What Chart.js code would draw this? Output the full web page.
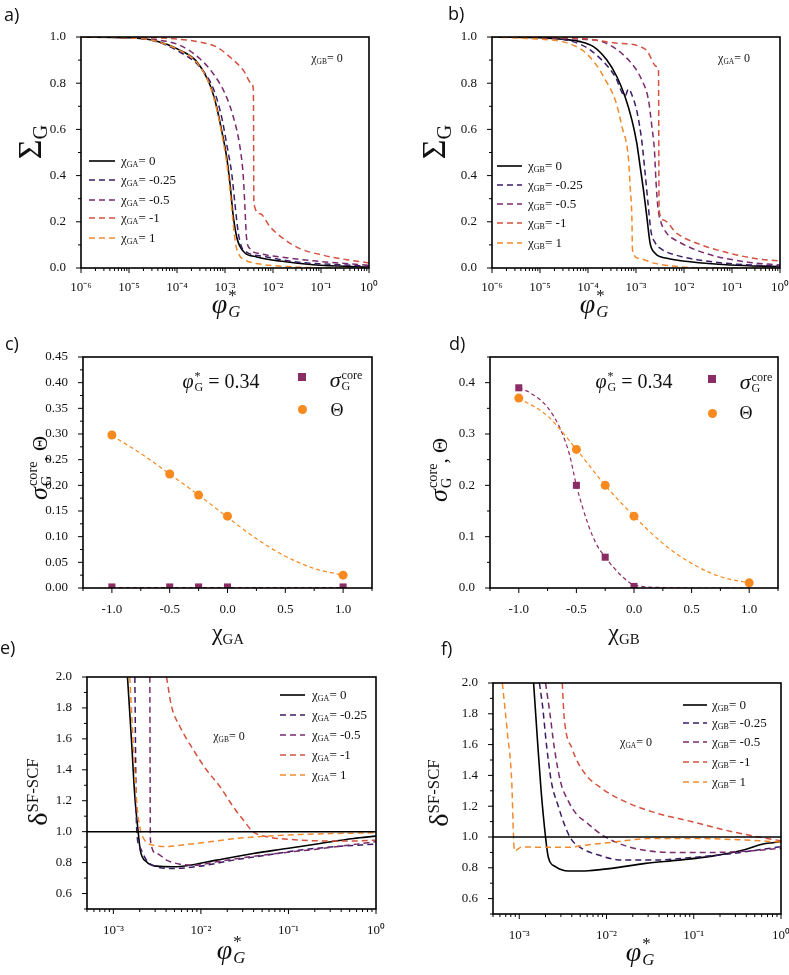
<!DOCTYPE html>
<html><head><meta charset="utf-8">
<script src="https://cdn.jsdelivr.net/npm/chart.js"></script>
<style>
html,body{margin:0;padding:0;background:#fff}
#wrap{position:relative;width:789px;height:975px;overflow:hidden;background:#fff}
canvas{position:absolute;left:0;top:0}
.pl{position:absolute;font-family:"Open Sans",sans-serif;font-size:18px;color:#111;line-height:1}
.t{position:absolute;font-family:"Liberation Serif",serif;color:#111;white-space:nowrap;line-height:1;transform:translate(-50%,-50%)}
.rot{transform:translate(-50%,-50%) rotate(-90deg)}
sub{font-size:0.62em;vertical-align:-0.3em;line-height:0}
.ss{display:inline-flex;flex-direction:column;font-size:0.6em;line-height:0.95;vertical-align:0.7em;text-align:left;margin-left:1px}
.lg{position:absolute;font-family:"Liberation Serif",serif;font-size:13px;color:#111;white-space:nowrap;line-height:1}
.mk{position:absolute}
</style></head><body><div id="wrap">
<canvas id="ca" width="789" height="975"></canvas>
<canvas id="cb" width="789" height="975"></canvas>
<canvas id="cc" width="789" height="975"></canvas>
<canvas id="cd" width="789" height="975"></canvas>
<canvas id="ce" width="789" height="975"></canvas>
<canvas id="cf" width="789" height="975"></canvas>

<div class="pl" style="left:4px;top:5px">a)</div>
<div class="pl" style="left:448px;top:4px">b)</div>
<div class="pl" style="left:5px;top:334px">c)</div>
<div class="pl" style="left:449px;top:334px">d)</div>
<div class="pl" style="left:0px;top:638px">e)</div>
<div class="pl" style="left:441px;top:639px">f)</div>

<div class="t rot" style="left:30px;top:142px;font-size:34px">Σ<sub style="font-size:0.6em">G</sub></div>
<div class="t rot" style="left:434px;top:142px;font-size:34px">Σ<sub style="font-size:0.6em">G</sub></div>
<div class="t" style="left:226px;top:304px;font-size:28px"><i>φ</i><span class="ss"><span>*</span><span><i>G</i></span></span></div>
<div class="t" style="left:594px;top:304px;font-size:28px"><i>φ</i><span class="ss"><span>*</span><span><i>G</i></span></span></div>

<div class="t" style="left:327px;top:58px;font-size:12px">χ<sub>GB</sub>= 0</div>
<div class="t" style="left:734px;top:58px;font-size:12px">χ<sub>GA</sub>= 0</div>

<div class="t rot" style="left:40px;top:468px;font-size:26px"><i>σ</i><span class="ss" style="font-size:0.55em"><span>core</span><span>G</span></span><span style="font-size:0.8em">, Θ</span></div>
<div class="t rot" style="left:440px;top:470px;font-size:26px"><i>σ</i><span class="ss" style="font-size:0.55em"><span>core</span><span>G</span></span><span style="font-size:0.8em">, Θ</span></div>
<div class="t" style="left:228px;top:632px;font-size:24px">χ<sub>GA</sub></div>
<div class="t" style="left:624px;top:632px;font-size:24px">χ<sub>GB</sub></div>

<div class="t" style="left:221px;top:382px;font-size:20px"><i>φ</i><span class="ss"><span>*</span><span>G</span></span> = 0.34</div>
<div class="t" style="left:634px;top:382px;font-size:20px"><i>φ</i><span class="ss"><span>*</span><span>G</span></span> = 0.34</div>
<div class="mk" style="left:298px;top:373px;width:8px;height:8px;background:#8a2d64"></div>
<div class="mk" style="left:298px;top:405px;width:9px;height:9px;border-radius:50%;background:#f7891f"></div>
<div class="t" style="left:346px;top:381px;font-size:22px"><i>σ</i><span class="ss" style="font-size:0.55em"><span>core</span><span>G</span></span></div>
<div class="t" style="left:337px;top:410px;font-size:18px">Θ</div>
<div class="mk" style="left:708px;top:375px;width:8px;height:8px;background:#8a2d64"></div>
<div class="mk" style="left:708px;top:409px;width:9px;height:9px;border-radius:50%;background:#f7891f"></div>
<div class="t" style="left:756px;top:383px;font-size:22px"><i>σ</i><span class="ss" style="font-size:0.55em"><span>core</span><span>G</span></span></div>
<div class="t" style="left:746px;top:413px;font-size:18px">Θ</div>

<div class="t rot" style="left:38px;top:792px;font-size:28px">δ<sup style="font-size:0.6em;vertical-align:0.55em;line-height:0">SF-SCF</sup></div>
<div class="t rot" style="left:439px;top:793px;font-size:28px">δ<sup style="font-size:0.6em;vertical-align:0.55em;line-height:0">SF-SCF</sup></div>
<div class="t" style="left:231px;top:950px;font-size:28px"><i>φ</i><span class="ss"><span>*</span><span><i>G</i></span></span></div>
<div class="t" style="left:640px;top:952px;font-size:28px"><i>φ</i><span class="ss"><span>*</span><span><i>G</i></span></span></div>
<div class="t" style="left:229px;top:736px;font-size:12px">χ<sub>GB</sub>= 0</div>
<div class="t" style="left:636px;top:742px;font-size:12px">χ<sub>GA</sub>= 0</div>
</div>
<script>
// ---------- data ----------
const CHI_LABELS = ['0', '-0.25', '-0.5', '-1', '1'];

// panel a: Sigma_G vs phi*_G (chi_GB = 0)
const A_CHI0   = [[1e-6,1],[1e-5,0.997],[3.2e-5,0.986],[1.15e-4,0.943],[2.6e-4,0.892],[4.9e-4,0.791],[6.7e-4,0.697],[8.5e-4,0.596],[1.08e-3,0.481],[1.27e-3,0.365],[1.49e-3,0.221],[1.75e-3,0.134],[2.0e-3,0.098],[2.6e-3,0.065],[4.6e-3,0.048],[1.4e-2,0.030],[6.9e-2,0.014],[1,0.004]];
const A_CHIM025 = [[1e-6,1],[1e-5,0.996],[3.2e-5,0.984],[1.15e-4,0.935],[3.0e-4,0.870],[5.7e-4,0.777],[8.5e-4,0.654],[1.08e-3,0.538],[1.38e-3,0.409],[1.61e-3,0.279],[1.9e-3,0.149],[2.22e-3,0.091],[2.8e-3,0.069],[7.4e-3,0.048],[3.1e-2,0.026],[0.154,0.016],[1,0.008]];
const A_CHIM05 = [[1e-6,1],[1e-5,0.998],[3.2e-5,0.99],[1.15e-4,0.964],[3.0e-4,0.906],[5.7e-4,0.841],[1.0e-3,0.755],[1.49e-3,0.654],[2.05e-3,0.524],[2.41e-3,0.394],[2.6e-3,0.264],[2.8e-3,0.134],[3.3e-3,0.084],[5.4e-3,0.062],[1.4e-2,0.048],[6.9e-2,0.031],[1,0.012]];
const A_CHIM1  = [[1e-6,1],[1e-5,0.999],[3.2e-5,0.997],[1.15e-4,0.99],[3.0e-4,0.978],[6.7e-4,0.957],[1.27e-3,0.913],[2.41e-3,0.856],[3.6e-3,0.798],[3.9e-3,0.77],[4.0e-3,0.279],[5.4e-3,0.235],[8.7e-3,0.178],[1.64e-2,0.127],[3.65e-2,0.084],[0.112,0.055],[0.343,0.036],[1,0.022]];
const A_CHI1   = [[1e-6,1],[1e-5,0.996],[3.2e-5,0.985],[1.15e-4,0.942],[2.6e-4,0.889],[4.9e-4,0.787],[6.7e-4,0.689],[8.5e-4,0.585],[1.07e-3,0.465],[1.26e-3,0.345],[1.47e-3,0.2],[1.68e-3,0.1],[1.95e-3,0.058],[2.6e-3,0.035],[5e-3,0.018],[2e-2,0.006],[1e-1,0.001],[1,0]];

// panel b: Sigma_G vs phi*_G (chi_GA = 0)
const B_CHI0   = [[1e-6,1],[1e-5,0.997],[3e-5,0.99],[6.9e-5,0.98],[1.3e-4,0.958],[2.47e-4,0.90],[4.0e-4,0.828],[5.9e-4,0.742],[8.2e-4,0.641],[1.04e-3,0.54],[1.22e-3,0.439],[1.43e-3,0.338],[1.68e-3,0.222],[1.97e-3,0.107],[2.5e-3,0.064],[4.4e-3,0.042],[1.34e-2,0.027],[9.1e-2,0.013],[1,0.006]];
const B_CHIM025 = [[1e-6,1],[9.3e-6,0.997],[7.5e-5,0.965],[1.95e-4,0.90],[3.7e-4,0.828],[5.9e-4,0.745],[7.0e-4,0.775],[8.2e-4,0.75],[1.04e-3,0.68],[1.32e-3,0.55],[1.55e-3,0.41],[1.8e-3,0.27],[2.05e-3,0.16],[2.5e-3,0.11],[3.5e-3,0.08],[7e-3,0.055],[2e-2,0.035],[0.1,0.018],[1,0.008]];
const B_CHIM05 = [[1e-6,1],[1e-5,0.998],[7.5e-5,0.99],[1.95e-4,0.98],[7.0e-4,0.90],[1.32e-3,0.814],[1.82e-3,0.727],[2.14e-3,0.612],[2.42e-3,0.511],[2.6e-3,0.381],[2.85e-3,0.265],[3.2e-3,0.208],[4.4e-3,0.15],[7.7e-3,0.114],[2.75e-2,0.064],[0.186,0.027],[1,0.013]];
const B_CHIM1  = [[1e-6,1],[1e-5,0.998],[6.9e-5,0.994],[3.4e-4,0.975],[1.13e-3,0.961],[1.68e-3,0.941],[2.7e-3,0.872],[2.94e-3,0.857],[3.03e-3,0.251],[3.7e-3,0.208],[7.1e-3,0.15],[1.85e-2,0.107],[6.6e-2,0.071],[0.28,0.042],[1,0.03]];
const B_CHI1   = [[1e-6,1],[9.3e-6,0.991],[2.9e-5,0.98],[7.5e-5,0.944],[1.41e-4,0.886],[2.3e-4,0.814],[3.7e-4,0.727],[5.1e-4,0.612],[7.0e-4,0.468],[7.55e-4,0.352],[8.2e-4,0.222],[8.45e-4,0.078],[1.12e-3,0.042],[2.5e-3,0.020],[7.6e-3,0.006],[3e-2,0],[1,0]];

// panel c: chi_GA scan at phi* = 0.34
const C_CHI = [-1, -0.5, -0.25, 0, 1];
const C_SIGMA = [0.002, 0.002, 0.002, 0.002, 0.002];
const C_THETA = [0.298, 0.222, 0.181, 0.140, 0.025];
const C_SIGMA_FIT = [[-1,0.001],[1,0.001]];
const C_THETA_FIT = [[-1,0.297],[-0.75,0.262],[-0.5,0.222],[-0.25,0.181],[0,0.138],[0.25,0.096],[0.5,0.062],[0.75,0.038],[1,0.025]];

// panel d: chi_GB scan at phi* = 0.34
const D_CHI_S = [-1, -0.5, -0.25, 0];
const D_SIGMA = [0.39, 0.20, 0.06, 0.003];
const D_CHI_T = [-1, -0.5, -0.25, 0, 1];
const D_THETA = [0.37, 0.27, 0.20, 0.14, 0.01];
const D_SIGMA_FIT = [[-1,0.39],[-0.9,0.38],[-0.75,0.352],[-0.64,0.31],[-0.56,0.26],[-0.5,0.20],[-0.4,0.125],[-0.33,0.087],[-0.25,0.06],[-0.1,0.022],[0,0.006],[0.24,0.001],[0.5,0],[1,0]];
const D_THETA_FIT = [[-1,0.37],[-0.75,0.335],[-0.5,0.27],[-0.25,0.20],[0,0.14],[0.25,0.087],[0.5,0.048],[0.75,0.022],[1,0.01]];

// panel e: delta SF-SCF (chi_GB = 0)
const E_CHI0   = [[1.45e-3,2.0],[1.61e-3,1.594],[1.76e-3,1.226],[1.92e-3,1.0],[2.03e-3,0.881],[2.39e-3,0.805],[3.11e-3,0.777],[4.83e-3,0.773],[7.5e-3,0.783],[1.51e-2,0.816],[3.97e-2,0.859],[9.6e-2,0.891],[0.23,0.924],[0.555,0.956],[1,0.971]];
const E_CHIM025 = [[1.76e-3,2.0],[1.84e-3,1.032],[2.0e-3,0.902],[2.39e-3,0.816],[3.11e-3,0.773],[4.83e-3,0.762],[9.75e-3,0.777],[2.34e-2,0.816],[5.65e-2,0.848],[0.136,0.881],[0.327,0.902],[1,0.92]];
const E_CHIM05 = [[2.61e-3,2.0],[2.65e-3,0.945],[3.11e-3,0.859],[4.05e-3,0.816],[5.75e-3,0.79],[8.2e-3,0.783],[1.51e-2,0.805],[3.64e-2,0.838],[8.8e-2,0.864],[0.211,0.887],[1,0.935]];
const E_CHIM1  = [[4.05e-3,2.0],[4.62e-3,1.81],[5.75e-3,1.68],[8.2e-3,1.529],[1.16e-2,1.399],[1.65e-2,1.291],[2.34e-2,1.161],[3.05e-2,1.075],[3.97e-2,0.999],[5.65e-2,0.967],[0.105,0.95],[0.211,0.941],[0.508,0.939],[1,0.945]];
const E_CHI1   = [[1.54e-3,2.0],[1.68e-3,1.594],[1.84e-3,1.205],[2.0e-3,1.032],[2.28e-3,0.945],[2.85e-3,0.913],[4.05e-3,0.904],[6.85e-3,0.917],[1.16e-2,0.932],[2.34e-2,0.954],[5.65e-2,0.971],[0.136,0.982],[0.327,0.988],[1,0.993]];

// panel f: delta SF-SCF (chi_GA = 0)
const F_CHI0   = [[1.46e-3,2.0],[1.62e-3,1.62],[1.78e-3,1.3],[2.0e-3,1.0],[2.15e-3,0.87],[2.6e-3,0.807],[3.68e-3,0.779],[6.2e-3,0.781],[1.15e-2,0.796],[2.79e-2,0.829],[6.7e-2,0.85],[0.162,0.876],[0.39,0.919],[0.605,0.953],[1,0.969]];
const F_CHIM025 = [[1.7e-3,2.0],[1.85e-3,1.85],[2.05e-3,1.6],[2.33e-3,1.36],[2.8e-3,1.2],[3.3e-3,1.08],[3.9e-3,0.99],[5.2e-3,0.926],[8.1e-3,0.883],[1.5e-2,0.85],[3.6e-2,0.85],[8.7e-2,0.865],[0.25,0.89],[1,0.937]];
const F_CHIM05 = [[2.0e-3,2.0],[2.25e-3,1.8],[2.5e-3,1.594],[2.98e-3,1.356],[3.6e-3,1.24],[4.5e-3,1.15],[5.75e-3,1.099],[8.95e-3,1.012],[1.39e-2,0.958],[2.14e-2,0.925],[5.15e-2,0.9],[0.162,0.9],[0.39,0.908],[1,0.926]];
const F_CHIM1  = [[3.11e-3,2.0],[3.26e-3,1.789],[4.05e-3,1.572],[5.5e-3,1.421],[8.95e-3,1.313],[1.66e-2,1.228],[3.35e-2,1.163],[9.6e-2,1.099],[0.277,1.034],[0.56,1.0],[1,0.975]];
const F_CHI1   = [[6.4e-4,2.0],[7.3e-4,1.68],[8.2e-4,1.356],[8.6e-4,1.0],[8.8e-4,0.91],[1.07e-3,0.935],[2.0e-3,0.933],[3.7e-3,0.933],[5.75e-3,0.947],[1.26e-2,0.968],[3.04e-2,0.99],[0.104,0.99],[0.39,0.98],[1,0.967]];
const REF_LINE = [[5e-4,1],[1,1]];

// tick labels / positions
const LOG_TICKS_AB = [1e-6,1e-5,1e-4,1e-3,1e-2,1e-1,1];
const LOG_TICKS_EF = [1e-3,1e-2,1e-1,1];
const Y_TICKS_AB = [0,0.2,0.4,0.6,0.8,1.0];
const Y_TICKS_C = [0,0.05,0.10,0.15,0.20,0.25,0.30,0.35,0.40,0.45];
const Y_TICKS_D = [0,0.1,0.2,0.3,0.4];
const Y_TICKS_EF = [0.6,0.8,1.0,1.2,1.4,1.6,1.8,2.0];
const X_TICKS_CD = [-1,-0.5,0,0.5,1];

// ---------- styles ----------
const COLORS = ['#000000', '#3b1d66', '#7a2b6c', '#d4513f', '#f08a2c'];
const SQ_COLOR = '#8a2d64', CIRC_COLOR = '#f7891f';
const DASH = [6,4];

function minorLog(lo, hi) { const out = []; for (let e = lo; e < hi; e++) for (let m = 2; m <= 9; m++) out.push(m * Math.pow(10, e)); return out; }
function minorLin(a, b, step) { const out = []; for (let v = a; v <= b + 1e-9; v += step) out.push(+v.toFixed(4)); return out; }

const SUP = {'-':'⁻','0':'⁰','1':'¹','2':'²','3':'³','4':'⁴','5':'⁵','6':'⁶','7':'⁷','8':'⁸','9':'⁹'};
function expLabel(v){ const e = Math.round(Math.log10(v)); return '10' + String(e).split('').map(c=>SUP[c]).join(''); }
const TICK_FONT = {family:'"Liberation Serif", serif', size:13};

function axis(type, min, max, ticks, fmt, pad){
  return {type, min, max,
    afterBuildTicks(s){ s.ticks = ticks.map(v=>({value:v})); },
    ticks:{font:TICK_FONT, color:'#111', padding:pad, autoSkip:false, maxRotation:0, minRotation:0, callback:fmt},
    grid:{display:false}, border:{display:false}};
}
const framePlugin = {
  id:'frame',
  afterDatasetsDraw(chart, args, o){
    const {ctx, chartArea:a} = chart; const x = chart.scales.x, y = chart.scales.y;
    ctx.save(); ctx.strokeStyle='#000'; ctx.lineWidth=1;
    const tx=(v,len)=>{const p=x.getPixelForValue(v); if(p<a.left-0.5||p>a.right+0.5)return; ctx.beginPath(); ctx.moveTo(p,a.bottom); ctx.lineTo(p,a.bottom+len); ctx.stroke();};
    const ty=(v,len)=>{const p=y.getPixelForValue(v); if(p<a.top-0.5||p>a.bottom+0.5)return; ctx.beginPath(); ctx.moveTo(a.left,p); ctx.lineTo(a.left-len,p); ctx.stroke();};
    x.ticks.forEach(t=>tx(t.value,5)); y.ticks.forEach(t=>ty(t.value,5));
    (o.xMinor||[]).forEach(v=>tx(v,3)); (o.yMinor||[]).forEach(v=>ty(v,3));
    ctx.lineWidth=1.6; ctx.strokeRect(a.left,a.top,a.right-a.left,a.bottom-a.top);
    ctx.restore();
  }
};
const pts = arr => arr.map(([x,y])=>({x,y}));
const zip = (xs, ys) => xs.map((x,i)=>({x, y:ys[i]}));
function lineDS(data, color, dash, w){ return {data:pts(data), borderColor:color, borderWidth:w||1.5, borderDash:dash||[], pointRadius:0, fill:false, cubicInterpolationMode:'monotone'}; }

const W = 789, H = 975, YW = 50, XH = 30;
function mk(id, area, xs, ys, datasets, minor){
  xs.afterFit = s => { s.height = XH; s.paddingLeft = s.paddingRight = s.paddingTop = s.paddingBottom = 0; };
  ys.afterFit = s => { s.width = YW; s.paddingLeft = s.paddingRight = s.paddingTop = s.paddingBottom = 0; };
  return new Chart(document.getElementById(id), {
    type:'line', data:{datasets},
    options:{responsive:false, animation:false, events:[],
      layout:{padding:{left:area.l-YW, top:area.t, right:W-area.r, bottom:H-area.b-XH}},
      plugins:{legend:{display:false}, tooltip:{enabled:false}, frame:minor},
      scales:{x:xs, y:ys}},
    plugins:[framePlugin]
  });
}
const f1 = v => Number(v).toFixed(1), f2 = v => Number(v).toFixed(2);

function fiveSeries(s){ return [
  lineDS(s[4], COLORS[4], DASH), lineDS(s[3], COLORS[3], DASH), lineDS(s[2], COLORS[2], DASH),
  lineDS(s[1], COLORS[1], DASH), lineDS(s[0], COLORS[0], [], 1.6)]; }

mk('ca', {l:81,t:37,r:369,b:268},
  axis('logarithmic', 1e-6, 1, LOG_TICKS_AB, expLabel, 4), axis('linear', 0, 1, Y_TICKS_AB, f1, 7),
  fiveSeries([A_CHI0, A_CHIM025, A_CHIM05, A_CHIM1, A_CHI1]),
  {xMinor:minorLog(-6,0), yMinor:minorLin(0.1,0.9,0.2)});
mk('cb', {l:492,t:37,r:780,b:268},
  axis('logarithmic', 1e-6, 1, LOG_TICKS_AB, expLabel, 4), axis('linear', 0, 1, Y_TICKS_AB, f1, 7),
  fiveSeries([B_CHI0, B_CHIM025, B_CHIM05, B_CHIM1, B_CHI1]),
  {xMinor:minorLog(-6,0), yMinor:minorLin(0.1,0.9,0.2)});

function scanSets(sFit, tFit, sPts, tPts){ return [
  {data:tPts, showLine:false, pointStyle:'circle', pointRadius:4.5, pointBackgroundColor:CIRC_COLOR, pointBorderWidth:0, borderColor:CIRC_COLOR},
  {data:sPts, showLine:false, pointStyle:'rect', pointRadius:5, pointBackgroundColor:SQ_COLOR, pointBorderWidth:0, borderColor:SQ_COLOR},
  lineDS(tFit, CIRC_COLOR, [4,3], 1.2), lineDS(sFit, SQ_COLOR, [4,3], 1.2)]; }

mk('cc', {l:83,t:357,r:372,b:588},
  axis('linear', -1.25, 1.25, X_TICKS_CD, f1, 6), axis('linear', 0, 0.45, Y_TICKS_C, f2, 7),
  scanSets(C_SIGMA_FIT, C_THETA_FIT, zip(C_CHI, C_SIGMA), zip(C_CHI, C_THETA)),
  {xMinor:[-1.25,-0.75,-0.25,0.25,0.75,1.25], yMinor:minorLin(0.025,0.425,0.05)});
mk('cd', {l:490,t:357,r:778,b:588},
  axis('linear', -1.25, 1.25, X_TICKS_CD, f1, 6), axis('linear', 0, 0.45, Y_TICKS_D, f1, 7),
  scanSets(D_SIGMA_FIT, D_THETA_FIT, zip(D_CHI_S, D_SIGMA), zip(D_CHI_T, D_THETA)),
  {xMinor:[-1.25,-0.75,-0.25,0.25,0.75,1.25], yMinor:minorLin(0.05,0.45,0.1)});

function deltaSets(s){ return [lineDS(REF_LINE, '#000', [], 1.5)].concat(fiveSeries(s)); }
mk('ce', {l:87,t:677,r:376,b:909},
  axis('logarithmic', 5e-4, 1, LOG_TICKS_EF, expLabel, 6), axis('linear', 0.5, 2.0, Y_TICKS_EF, f1, 7),
  deltaSets([E_CHI0, E_CHIM025, E_CHIM05, E_CHIM1, E_CHI1]),
  {xMinor:minorLog(-4,0).filter(v=>v>=5e-4), yMinor:minorLin(0.5,1.9,0.2)});
mk('cf', {l:493,t:683,r:781,b:914},
  axis('logarithmic', 5e-4, 1, LOG_TICKS_EF, expLabel, 6), axis('linear', 0.5, 2.0, Y_TICKS_EF, f1, 7),
  deltaSets([F_CHI0, F_CHIM025, F_CHIM05, F_CHIM1, F_CHI1]),
  {xMinor:minorLog(-4,0).filter(v=>v>=5e-4), yMinor:minorLin(0.5,1.9,0.2)});

// ---------- legends ----------
const wrap = document.getElementById('wrap');
function legend(sub, x0, x1, tx, ys){
  CHI_LABELS.forEach((lab, i) => {
    const y = ys[i];
    const svg = document.createElementNS('http://www.w3.org/2000/svg','svg');
    svg.setAttribute('width', x1-x0); svg.setAttribute('height', 6);
    svg.style.cssText = `position:absolute;left:${x0}px;top:${y-3}px`;
    const ln = document.createElementNS('http://www.w3.org/2000/svg','line');
    ln.setAttribute('x1',0); ln.setAttribute('x2',x1-x0); ln.setAttribute('y1',3); ln.setAttribute('y2',3);
    ln.setAttribute('stroke', COLORS[i]); ln.setAttribute('stroke-width', 1.6);
    if (i>0) ln.setAttribute('stroke-dasharray','6,4');
    svg.appendChild(ln); wrap.appendChild(svg);
    const d = document.createElement('div'); d.className='lg';
    d.style.left = tx + 'px'; d.style.top = (y-7) + 'px';
    d.innerHTML = 'χ<sub>' + sub + '</sub>= ' + lab;
    wrap.appendChild(d);
  });
}
legend('GA', 89, 115, 121, [161,180,200,218,238]);
legend('GB', 497, 522, 528, [166,185,204,223,243]);
legend('GA', 280, 305, 312, [695,715,735,755,775]);
legend('GB', 683, 707, 712, [705,723,742,762,782]);
</script>
</body></html>
